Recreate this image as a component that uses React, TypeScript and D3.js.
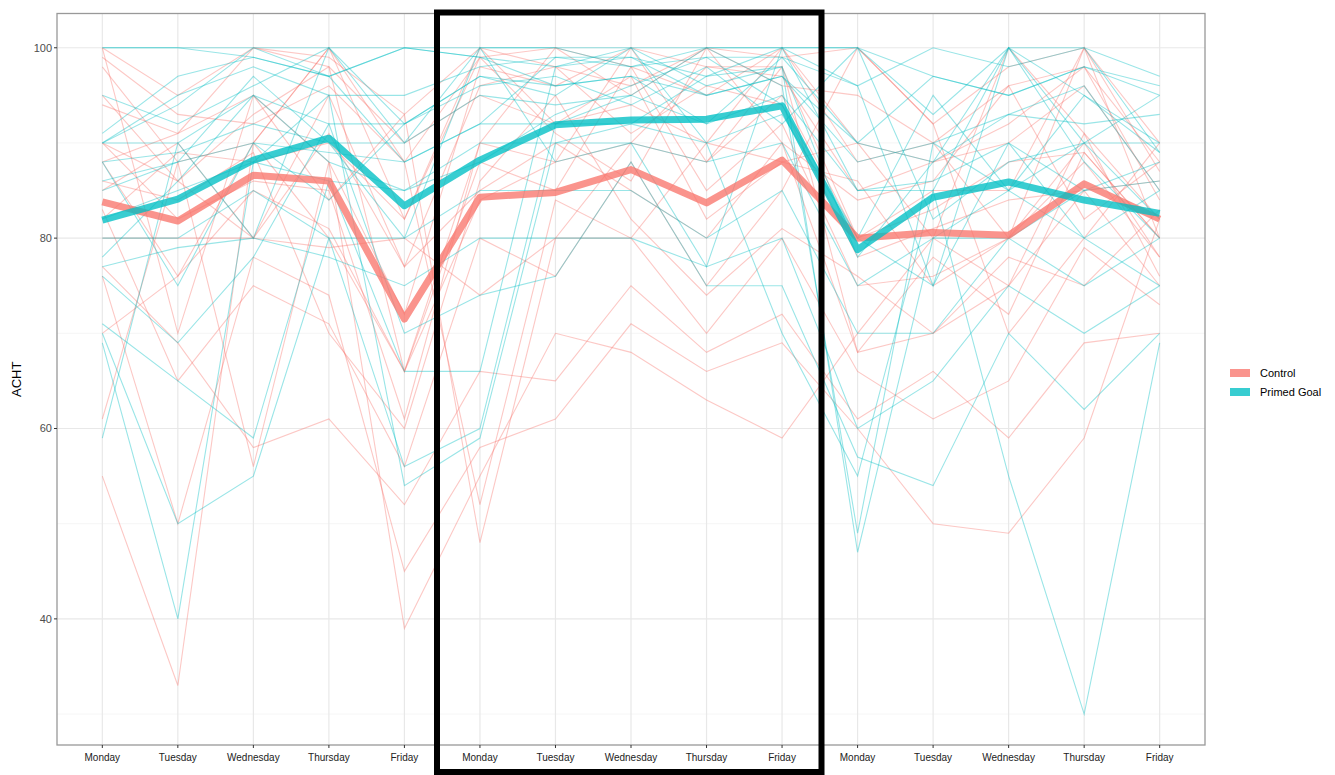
import { line, scaleLinear, scalePoint } from "d3";

const days = ["Monday", "Tuesday", "Wednesday", "Thursday", "Friday"];
const dayLabels = [...days, ...days, ...days];
const yTicks = [40, 60, 80, 100];
const yMinor = [30, 50, 70, 90];

const groups = ["Control", "Primed Goal"];
const colors = ["#F8766D", "#00BFC4"];

// group means
const controlMean = [83.8, 81.8, 86.6, 86.0, 71.5, 84.3, 84.8, 87.2, 83.7, 88.2, 80.0, 80.6, 80.3, 85.7, 82.0];
const primedMean = [81.9, 84.1, 88.2, 90.5, 83.4, 88.2, 91.9, 92.4, 92.5, 93.9, 78.8, 84.3, 85.9, 84.0, 82.6];

// individual subjects, 15 days each
const controlSubjects = [
  [100, 95, 100, 99, 93, 100, 98, 96, 100, 99, 100, 92, 98, 100, 90],
  [98, 88, 90, 100, 82, 99, 100, 98, 95, 100, 88, 90, 96, 98, 88],
  [94, 91, 95, 88, 72, 98, 96, 100, 98, 97, 85, 88, 90, 96, 85],
  [90, 86, 93, 98, 90, 95, 92, 94, 90, 100, 90, 80, 100, 91, 82],
  [90, 82, 86, 85, 61, 90, 88, 90, 88, 95, 80, 85, 85, 100, 80],
  [88, 76, 90, 80, 66, 88, 85, 98, 85, 92, 75, 76, 80, 90, 78],
  [85, 90, 80, 95, 77, 85, 90, 85, 80, 90, 68, 70, 75, 85, 75],
  [83, 65, 75, 71, 56, 80, 76, 88, 75, 85, 100, 92, 70, 80, 90],
  [80, 80, 80, 79, 80, 74, 80, 80, 70, 80, 66, 61, 65, 79, 73],
  [77, 69, 58, 61, 52, 66, 65, 75, 68, 72, 61, 66, 59, 69, 70],
  [76, 50, 78, 74, 45, 58, 61, 71, 66, 69, 60, 50, 49, 59, 82],
  [61, 88, 56, 88, 39, 55, 70, 68, 63, 59, 70, 80, 75, 91, 76],
  [55, 33, 90, 100, 88, 52, 84, 80, 90, 88, 90, 88, 92, 98, 84],
  [100, 70, 95, 84, 93, 48, 80, 90, 98, 98, 80, 83, 88, 89, 80],
  [88, 91, 100, 98, 66, 90, 100, 95, 100, 96, 95, 90, 80, 100, 87],
  [82, 89, 88, 90, 82, 100, 92, 97, 82, 88, 86, 75, 80, 88, 78],
  [95, 86, 80, 91, 77, 96, 98, 91, 96, 94, 78, 81, 84, 85, 86],
  [70, 76, 85, 81, 66, 84, 88, 100, 88, 98, 68, 78, 72, 89, 80],
  [99, 93, 92, 96, 88, 99, 91, 86, 100, 90, 84, 86, 96, 82, 88],
  [86, 84, 89, 70, 60, 86, 95, 82, 74, 81, 76, 70, 78, 75, 83],
];

const primedSubjects = [
  [100, 100, 100, 100, 100, 100, 100, 100, 100, 100, 100, 93, 100, 95, 89],
  [91, 97, 99, 97, 100, 99, 98, 99, 97, 100, 96, 100, 98, 100, 97],
  [90, 95, 98, 95, 95, 98, 99, 98, 99, 99, 90, 97, 95, 98, 95],
  [90, 90, 95, 92, 92, 97, 96, 97, 95, 97, 88, 90, 93, 92, 93],
  [88, 89, 92, 90, 90, 95, 94, 95, 92, 95, 85, 85, 100, 90, 90],
  [86, 88, 90, 89, 88, 92, 92, 92, 90, 93, 80, 75, 90, 85, 88],
  [82, 85, 88, 86, 85, 90, 90, 90, 88, 90, 75, 80, 85, 80, 85],
  [80, 80, 85, 80, 80, 85, 85, 85, 80, 85, 70, 70, 80, 75, 80],
  [77, 79, 80, 78, 75, 80, 80, 80, 77, 80, 60, 65, 75, 70, 75],
  [76, 69, 78, 92, 70, 74, 76, 88, 75, 75, 57, 54, 70, 62, 70],
  [71, 65, 59, 86, 66, 66, 98, 100, 90, 70, 55, 85, 55, 30, 69],
  [70, 50, 55, 80, 56, 60, 92, 95, 100, 96, 49, 90, 85, 90, 82],
  [69, 40, 88, 95, 54, 59, 90, 92, 97, 98, 47, 80, 80, 85, 86],
  [59, 90, 80, 100, 90, 100, 100, 98, 100, 100, 100, 97, 95, 98, 96],
  [100, 100, 99, 97, 100, 99, 96, 97, 92, 99, 96, 75, 100, 100, 89],
  [90, 94, 100, 97, 88, 92, 99, 99, 95, 97, 90, 88, 93, 96, 85],
  [85, 88, 97, 90, 80, 100, 88, 90, 77, 100, 85, 86, 90, 80, 75],
  [78, 86, 95, 88, 85, 88, 93, 96, 99, 94, 80, 95, 85, 95, 90],
  [95, 92, 96, 100, 92, 96, 97, 94, 98, 92, 100, 82, 88, 90, 95],
  [88, 75, 90, 84, 92, 97, 95, 100, 96, 98, 78, 88, 100, 88, 80],
];

const W = 1335;
const H = 775;
const panel = { left: 57, right: 1205, top: 13.5, bottom: 745 };
const font = "'Liberation Sans', Arial, sans-serif";

const x = scalePoint<number>()
  .domain(dayLabels.map((_, i) => i))
  .range([panel.left, panel.right])
  .padding(0.6);

const y = scaleLinear().domain([26.75, 103.6]).range([panel.bottom, panel.top]);

const path = line<number>()
  .x((_, i) => x(i) as number)
  .y((d) => y(d));

export default function App() {
  const thin = [controlSubjects, primedSubjects];
  const means = [controlMean, primedMean];

  return (
    <svg width={W} height={H} style={{ position: "absolute", left: 0, top: 0, background: "#fff" }}>
      <rect x={panel.left} y={panel.top} width={panel.right - panel.left} height={panel.bottom - panel.top} fill="#fff" />
      {/* grid */}
      {yMinor.map((v) => (
        <line key={"m" + v} x1={panel.left} x2={panel.right} y1={y(v)} y2={y(v)} stroke="#f2f2f2" strokeWidth={0.8} />
      ))}
      {yTicks.map((v) => (
        <line key={"g" + v} x1={panel.left} x2={panel.right} y1={y(v)} y2={y(v)} stroke="#e8e8e8" strokeWidth={1.2} />
      ))}
      {dayLabels.map((_, i) => (
        <line key={"v" + i} x1={x(i)} x2={x(i)} y1={panel.top} y2={panel.bottom} stroke="#e8e8e8" strokeWidth={1.2} />
      ))}

      {/* individual subjects */}
      {thin.map((rows, g) =>
        rows.map((r, k) => (
          <path key={g + "-" + k} d={path(r) ?? ""} fill="none" stroke={colors[g]} strokeWidth={1.1} strokeOpacity={0.4} />
        ))
      )}

      {/* group means */}
      {means.map((m, g) => (
        <path key={"mean" + g} d={path(m) ?? ""} fill="none" stroke={colors[g]} strokeWidth={7} strokeOpacity={0.78} strokeLinejoin="round" />
      ))}

      {/* panel border */}
      <rect x={panel.left} y={panel.top} width={panel.right - panel.left} height={panel.bottom - panel.top} fill="none" stroke="#999" strokeWidth={1.3} />

      {/* y axis */}
      {yTicks.map((v) => (
        <g key={"yt" + v}>
          <line x1={panel.left - 3} x2={panel.left} y1={y(v)} y2={y(v)} stroke="#333" strokeWidth={1} />
          <text x={panel.left - 5} y={y(v)} dy="0.35em" textAnchor="end" fontFamily={font} fontSize={11} fill="#4d4d4d">
            {v}
          </text>
        </g>
      ))}
      <text transform={`translate(21,${(panel.top + panel.bottom) / 2}) rotate(-90)`} textAnchor="middle" fontFamily={font} fontSize={13} fill="#000">
        ACHT
      </text>

      {/* x axis */}
      {dayLabels.map((d, i) => (
        <g key={"xt" + i}>
          <line x1={x(i)} x2={x(i)} y1={panel.bottom} y2={panel.bottom + 3} stroke="#333" strokeWidth={1} />
          <text x={x(i)} y={panel.bottom + 16} textAnchor="middle" fontFamily={font} fontSize={10} fill="#222">
            {d}
          </text>
        </g>
      ))}

      {/* legend */}
      {groups.map((gname, g) => (
        <g key={"lg" + g} transform={`translate(1230,${373 + g * 19})`}>
          <rect x={0} y={-4} width={20} height={8} fill={colors[g]} fillOpacity={0.78} />
          <text x={30} y={0} dy="0.35em" fontFamily={font} fontSize={11} fill="#000">
            {gname}
          </text>
        </g>
      ))}

      {/* highlight box around week 2 */}
      <rect x={437} y={12.5} width={384.5} height={759.5} fill="none" stroke="#000" strokeWidth={6} />
    </svg>
  );
}
